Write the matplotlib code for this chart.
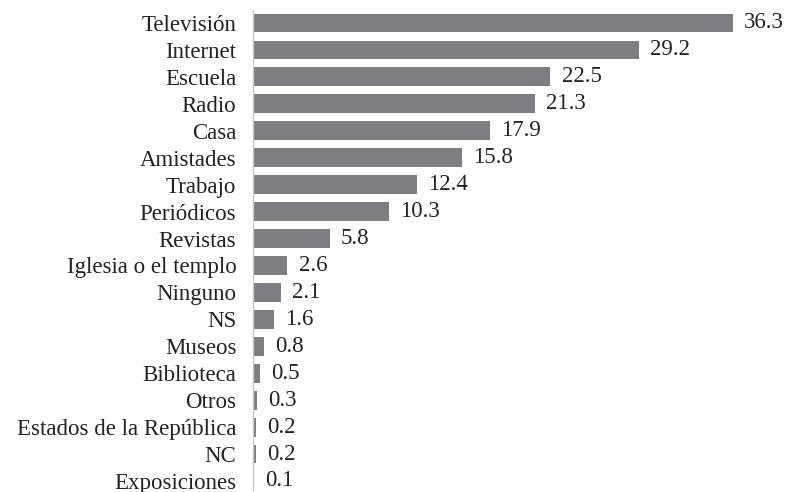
import matplotlib
matplotlib.use("Agg")
import matplotlib.pyplot as plt

categories = ["Televisión", "Internet", "Escuela", "Radio", "Casa", "Amistades",
              "Trabajo", "Periódicos", "Revistas", "Iglesia o el templo", "Ninguno",
              "NS", "Museos", "Biblioteca", "Otros", "Estados de la República",
              "NC", "Exposiciones"]
values = [36.3, 29.2, 22.5, 21.3, 17.9, 15.8, 12.4, 10.3, 5.8, 2.6, 2.1, 1.6,
          0.8, 0.5, 0.3, 0.2, 0.2, 0.1]
value_labels = ["36.3", "29.2", "22.5", "21.3", "17.9", "15.8", "12.4", "10.3", "5.8",
                "2.6", "2.1", "1.6", "0.8", "0.5", "0.3", "0.2", "0.2", "0.1"]

plt.rcParams['font.family'] = ['Liberation Serif', 'DejaVu Serif']

W, H = 788, 492
fig = plt.figure(figsize=(W / 100, H / 100), dpi=100)
left_px = 253
ax = fig.add_axes([left_px / W, 0, (W - left_px) / W, 1])

pos = list(range(len(categories)))
ax.barh(pos, values, height=0.7, color="#7e7e82", zorder=2)

n = len(categories)
row = (481 - 23) / (n - 1)
ax.set_ylim((n - 1) + (H - 481) / row, -23 / row)
ax.set_xlim(0, (W - left_px) / 13.22)

fs = 16.5
for p, v, lab in zip(pos, values, value_labels):
    ax.text(v + 0.85, p, lab, va="center", ha="left", fontsize=fs, color="#222222")

ax.set_yticks(pos)
ax.set_yticklabels(categories, fontsize=fs, color="#222222")
ax.tick_params(axis="y", length=0, pad=12)
ax.set_xticks([])
for s in ["top", "right", "bottom"]:
    ax.spines[s].set_visible(False)
ax.spines["left"].set_color("#c8c8c8")
ax.spines["left"].set_linewidth(1.0)
ax.spines["left"].set_bounds((n - 1) + 0.35, -0.48)

fig.savefig("out.png", dpi=100)
